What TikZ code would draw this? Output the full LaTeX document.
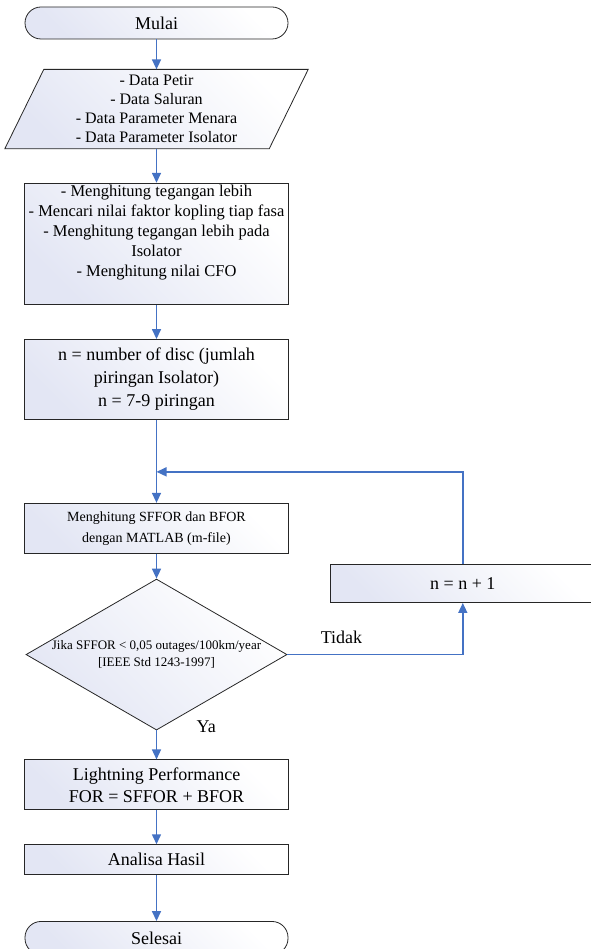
\documentclass[tikz,border=0pt]{standalone}
\usepackage{fontspec}
\setmainfont{Liberation Serif}
\usepackage{xcolor}
\usetikzlibrary{arrows.meta,calc,positioning,shapes.geometric,backgrounds}
\definecolor{flowblue}{HTML}{4472C4}
\definecolor{boxtint}{HTML}{E3E6F4}

\begin{document}
\begin{tikzpicture}[x=1pt, y=1pt, node distance=30pt,
    shaded/.style={draw=black!85, line width=0.8pt, top color=boxtint, bottom color=white, shading angle=135},
    box/.style={rectangle, shaded, minimum width=264pt, align=center, inner sep=2pt},
    terminal/.style={box, rounded corners=16pt, minimum width=263pt, minimum height=32pt, font=\fontsize{18}{22}\selectfont},
    decision/.style={diamond, shaded, minimum width=261pt, minimum height=151pt, inner sep=0pt},
    flow/.style={-{Triangle[length=10pt, width=9pt]}, draw=flowblue, line width=1.5pt},
    lbl/.style={font=\fontsize{18}{22}\selectfont, inner sep=0pt}]
    \useasboundingbox (0,0) rectangle (590,-949);

    \node[terminal] (mulai) at (156.5,-23) {Mulai};
    \node[below=30pt of mulai, minimum width=303pt, minimum height=79pt, inner sep=0pt, align=center,
        font=\fontsize{16}{19}\selectfont] (data) {- Data Petir\\- Data Saluran\\- Data Parameter Menara\\- Data Parameter Isolator};
    \begin{scope}[on background layer]
        \path[shaded] (data.south west) -- ($(data.south east)+(-39pt,0)$) -- (data.north east)
            -- ($(data.north west)+(39pt,0)$) -- cycle;
    \end{scope}
    \node[box, below=34pt of data, minimum height=118pt, inner xsep=0pt, font=\fontsize{16.5}{20}\selectfont] (calc)
        {- Menghitung tegangan lebih\\- Mencari nilai faktor kopling tiap fasa\\- Menghitung tegangan lebih pada\\Isolator\\- Menghitung nilai CFO\\[6pt]};
    \node[box, below=34pt of calc, minimum height=80pt, font=\fontsize{18}{23}\selectfont] (ndisc)
        {n = number of disc (jumlah\\piringan Isolator)\\n = 7-9 piringan};
    \coordinate[below=52pt of ndisc] (join);
    \node[box, below=83pt of ndisc, minimum height=50pt, font=\fontsize{14}{21}\selectfont] (sim)
        {Menghitung SFFOR dan BFOR\\dengan MATLAB (m-file)};
    \node[decision, below=25pt of sim] (check) {};
    \node[align=center, font=\fontsize{13}{17}\selectfont] (checktext) at (check)
        {Jika SFFOR < 0,05 outages/100km/year\\{[IEEE Std 1243-1997]}};
    \node[box, right=43pt of check, yshift=71pt, minimum height=38pt, font=\fontsize{18}{22}\selectfont] (incr) {n = n + 1};
    \node[box, below=29pt of check, minimum height=50pt, font=\fontsize{18}{22}\selectfont] (perf)
        {Lightning Performance\\FOR = SFFOR + BFOR};
    \node[box, below=34pt of perf, minimum height=30pt, font=\fontsize{18}{22}\selectfont] (hasil) {Analisa Hasil};
    \node[terminal, below=46pt of hasil, minimum height=33pt] (selesai) {Selesai};
    \node[lbl, right=40pt of check.south, yshift=4pt] (ya) {Ya};

    \draw[flow] (mulai) -- (data);
    \draw[flow] (data) -- (calc);
    \draw[flow] (calc) -- (ndisc);
    \draw[flow] (ndisc) -- (sim);
    \draw[flow] (incr) |- (join);
    \draw[flow] (sim) -- (check);
    \draw[flow] (check) -| node[lbl, pos=0.154, above=10pt] (tidak) {Tidak} (incr);
    \draw[flow] (check) -- (perf);
    \draw[flow] (perf) -- (hasil);
    \draw[flow] (hasil) -- (selesai);
\end{tikzpicture}
\end{document}
